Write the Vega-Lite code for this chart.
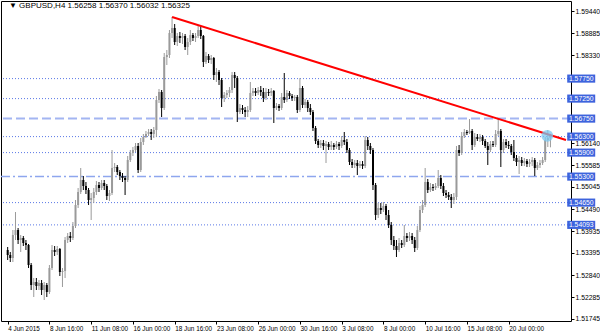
{
"$schema":"https://vega.github.io/schema/vega-lite/v6.json",
"width":570,"height":320,
"autosize":{"type":"none"},
"padding":{"left":1,"top":1,"right":29,"bottom":12},
"background":"white",
"config":{"font":"Liberation Sans","view":{"stroke":"#000","strokeWidth":1}},
"datasets":{
"levels":[{"lv":1.5775,"s":"dot"},{"lv":1.5725,"s":"dot"},{"lv":1.5675,"s":"dash"},{"lv":1.563,"s":"dot"},{"lv":1.559,"s":"dot"},{"lv":1.553,"s":"dashdot"},{"lv":1.5465,"s":"dot"},{"lv":1.54093,"s":"dot"}],
"trend":[{"x1":63,"p1":1.5929,"x2":213.97,"p2":1.56215}],
"mark":[{"ht":206.8,"hp":1.5632}],
"head":[{"hx":0.5,"hy":1.59565,"txt":"▼ GBPUSD,H4  1.56258 1.56370 1.56032 1.56325"}],
"k":[
{"t":0,"o":1.53465,"h":1.5354,"l":1.53215,"c":1.5334},
{"t":1,"o":1.5334,"h":1.53415,"l":1.53165,"c":1.53265},
{"t":2,"o":1.53265,"h":1.53965,"l":1.53165,"c":1.5384},
{"t":3,"o":1.5384,"h":1.54415,"l":1.53715,"c":1.53965},
{"t":4,"o":1.53965,"h":1.54015,"l":1.53615,"c":1.53715},
{"t":5,"o":1.53715,"h":1.5384,"l":1.53415,"c":1.53765},
{"t":6,"o":1.53765,"h":1.53815,"l":1.53565,"c":1.5364},
{"t":7,"o":1.5364,"h":1.53715,"l":1.53465,"c":1.5359},
{"t":8,"o":1.5359,"h":1.53615,"l":1.53015,"c":1.5309},
{"t":9,"o":1.5309,"h":1.5314,"l":1.52465,"c":1.5259},
{"t":10,"o":1.5259,"h":1.52765,"l":1.5229,"c":1.52665},
{"t":11,"o":1.52665,"h":1.52765,"l":1.52465,"c":1.52565},
{"t":12,"o":1.52565,"h":1.52715,"l":1.52465,"c":1.5264},
{"t":13,"o":1.5264,"h":1.52715,"l":1.5234,"c":1.52465},
{"t":14,"o":1.52465,"h":1.52665,"l":1.52215,"c":1.5259},
{"t":15,"o":1.5259,"h":1.5264,"l":1.5229,"c":1.52415},
{"t":16,"o":1.52415,"h":1.5309,"l":1.52365,"c":1.53015},
{"t":17,"o":1.53015,"h":1.5359,"l":1.52965,"c":1.53465},
{"t":18,"o":1.53465,"h":1.53565,"l":1.53315,"c":1.53415},
{"t":19,"o":1.53415,"h":1.53565,"l":1.5334,"c":1.5349},
{"t":20,"o":1.5349,"h":1.53515,"l":1.52815,"c":1.52915},
{"t":21,"o":1.52915,"h":1.53015,"l":1.5254,"c":1.5294},
{"t":22,"o":1.5294,"h":1.5379,"l":1.52765,"c":1.53715},
{"t":23,"o":1.53715,"h":1.5389,"l":1.5364,"c":1.53815},
{"t":24,"o":1.53815,"h":1.53915,"l":1.53665,"c":1.53765},
{"t":25,"o":1.53765,"h":1.54165,"l":1.53715,"c":1.54065},
{"t":26,"o":1.54065,"h":1.54715,"l":1.54015,"c":1.5459},
{"t":27,"o":1.5459,"h":1.55015,"l":1.54515,"c":1.54915},
{"t":28,"o":1.54915,"h":1.55515,"l":1.54865,"c":1.55215},
{"t":29,"o":1.55215,"h":1.55315,"l":1.54965,"c":1.55065},
{"t":30,"o":1.55065,"h":1.55165,"l":1.54865,"c":1.54965},
{"t":31,"o":1.54965,"h":1.55015,"l":1.5459,"c":1.54715},
{"t":32,"o":1.54715,"h":1.5489,"l":1.54215,"c":1.54765},
{"t":33,"o":1.54765,"h":1.55015,"l":1.5464,"c":1.54915},
{"t":34,"o":1.54915,"h":1.5519,"l":1.5484,"c":1.5509},
{"t":35,"o":1.5509,"h":1.55165,"l":1.54915,"c":1.55015},
{"t":36,"o":1.55015,"h":1.55215,"l":1.54965,"c":1.5514},
{"t":37,"o":1.5514,"h":1.55215,"l":1.54965,"c":1.55065},
{"t":38,"o":1.55065,"h":1.55115,"l":1.54715,"c":1.54815},
{"t":39,"o":1.54815,"h":1.54965,"l":1.5469,"c":1.5489},
{"t":40,"o":1.5489,"h":1.55965,"l":1.5484,"c":1.55515},
{"t":41,"o":1.55515,"h":1.5564,"l":1.55415,"c":1.5554},
{"t":42,"o":1.5554,"h":1.5559,"l":1.5534,"c":1.55415},
{"t":43,"o":1.55415,"h":1.55465,"l":1.55215,"c":1.55315},
{"t":44,"o":1.55315,"h":1.5539,"l":1.55165,"c":1.55265},
{"t":45,"o":1.55265,"h":1.55315,"l":1.5484,"c":1.55215},
{"t":46,"o":1.55215,"h":1.55815,"l":1.55165,"c":1.55715},
{"t":47,"o":1.55715,"h":1.55965,"l":1.55665,"c":1.5589},
{"t":48,"o":1.5589,"h":1.5604,"l":1.55815,"c":1.55965},
{"t":49,"o":1.55965,"h":1.5614,"l":1.55915,"c":1.56065},
{"t":50,"o":1.56065,"h":1.5614,"l":1.5539,"c":1.55465},
{"t":51,"o":1.55465,"h":1.56265,"l":1.55415,"c":1.56165},
{"t":52,"o":1.56165,"h":1.56365,"l":1.5609,"c":1.5629},
{"t":53,"o":1.5629,"h":1.5644,"l":1.56265,"c":1.56365},
{"t":54,"o":1.56365,"h":1.5649,"l":1.56315,"c":1.56415},
{"t":55,"o":1.56415,"h":1.5649,"l":1.56215,"c":1.56365},
{"t":56,"o":1.56365,"h":1.5654,"l":1.56265,"c":1.56465},
{"t":57,"o":1.56465,"h":1.57315,"l":1.5629,"c":1.57215},
{"t":58,"o":1.57215,"h":1.5749,"l":1.5714,"c":1.57415},
{"t":59,"o":1.57415,"h":1.57465,"l":1.5679,"c":1.57015},
{"t":60,"o":1.57015,"h":1.5839,"l":1.56965,"c":1.5829},
{"t":61,"o":1.5829,"h":1.58465,"l":1.5809,"c":1.5834},
{"t":62,"o":1.5834,"h":1.58965,"l":1.58265,"c":1.5889},
{"t":63,"o":1.5889,"h":1.5929,"l":1.58765,"c":1.59015},
{"t":64,"o":1.59015,"h":1.59115,"l":1.5859,"c":1.58665},
{"t":65,"o":1.58665,"h":1.5889,"l":1.58565,"c":1.58815},
{"t":66,"o":1.58815,"h":1.58915,"l":1.5864,"c":1.58765},
{"t":67,"o":1.58765,"h":1.5889,"l":1.58615,"c":1.58815},
{"t":68,"o":1.58815,"h":1.58865,"l":1.58465,"c":1.5854},
{"t":69,"o":1.5854,"h":1.58765,"l":1.5834,"c":1.58665},
{"t":70,"o":1.58665,"h":1.58965,"l":1.5859,"c":1.5884},
{"t":71,"o":1.5884,"h":1.5889,"l":1.5869,"c":1.58765},
{"t":72,"o":1.58765,"h":1.5889,"l":1.58665,"c":1.58815},
{"t":73,"o":1.58815,"h":1.59065,"l":1.58765,"c":1.58965},
{"t":74,"o":1.58965,"h":1.59065,"l":1.5874,"c":1.58815},
{"t":75,"o":1.58815,"h":1.5884,"l":1.5804,"c":1.58165},
{"t":76,"o":1.58165,"h":1.58415,"l":1.58115,"c":1.58315},
{"t":77,"o":1.58315,"h":1.58365,"l":1.5814,"c":1.58215},
{"t":78,"o":1.58215,"h":1.5834,"l":1.58115,"c":1.58265},
{"t":79,"o":1.58265,"h":1.5829,"l":1.57715,"c":1.5784},
{"t":80,"o":1.5784,"h":1.58015,"l":1.57665,"c":1.57915},
{"t":81,"o":1.57915,"h":1.57965,"l":1.5759,"c":1.57715},
{"t":82,"o":1.57715,"h":1.57765,"l":1.5704,"c":1.57265},
{"t":83,"o":1.57265,"h":1.57415,"l":1.57165,"c":1.5734},
{"t":84,"o":1.5734,"h":1.57465,"l":1.57265,"c":1.5739},
{"t":85,"o":1.5739,"h":1.5754,"l":1.5729,"c":1.57465},
{"t":86,"o":1.57465,"h":1.57915,"l":1.5739,"c":1.5784},
{"t":87,"o":1.5784,"h":1.57915,"l":1.57515,"c":1.57765},
{"t":88,"o":1.57765,"h":1.57815,"l":1.56665,"c":1.56915},
{"t":89,"o":1.56915,"h":1.57115,"l":1.56865,"c":1.57015},
{"t":90,"o":1.57015,"h":1.5709,"l":1.56865,"c":1.56965},
{"t":91,"o":1.56965,"h":1.5704,"l":1.5679,"c":1.56915},
{"t":92,"o":1.56915,"h":1.57065,"l":1.5679,"c":1.56965},
{"t":93,"o":1.56965,"h":1.57665,"l":1.56915,"c":1.5739},
{"t":94,"o":1.5739,"h":1.57515,"l":1.57315,"c":1.5744},
{"t":95,"o":1.5744,"h":1.57515,"l":1.57315,"c":1.5739},
{"t":96,"o":1.5739,"h":1.5754,"l":1.5734,"c":1.57465},
{"t":97,"o":1.57465,"h":1.57565,"l":1.57315,"c":1.57415},
{"t":98,"o":1.57415,"h":1.57515,"l":1.57165,"c":1.57265},
{"t":99,"o":1.57265,"h":1.57515,"l":1.57215,"c":1.57415},
{"t":100,"o":1.57415,"h":1.5749,"l":1.57315,"c":1.5739},
{"t":101,"o":1.5739,"h":1.57515,"l":1.57315,"c":1.5744},
{"t":102,"o":1.5744,"h":1.57465,"l":1.5664,"c":1.57015},
{"t":103,"o":1.57015,"h":1.5714,"l":1.56965,"c":1.57065},
{"t":104,"o":1.57065,"h":1.57115,"l":1.5694,"c":1.57015},
{"t":105,"o":1.57015,"h":1.5739,"l":1.56965,"c":1.5729},
{"t":106,"o":1.5729,"h":1.5789,"l":1.5714,"c":1.57215},
{"t":107,"o":1.57215,"h":1.57465,"l":1.57165,"c":1.5739},
{"t":108,"o":1.5739,"h":1.5744,"l":1.5724,"c":1.57315},
{"t":109,"o":1.57315,"h":1.57365,"l":1.5719,"c":1.57265},
{"t":110,"o":1.57265,"h":1.5734,"l":1.5719,"c":1.5729},
{"t":111,"o":1.5729,"h":1.5734,"l":1.5689,"c":1.56965},
{"t":112,"o":1.56965,"h":1.57765,"l":1.56915,"c":1.57515},
{"t":113,"o":1.57515,"h":1.57565,"l":1.57015,"c":1.5709},
{"t":114,"o":1.5709,"h":1.5724,"l":1.57015,"c":1.57165},
{"t":115,"o":1.57165,"h":1.57215,"l":1.56915,"c":1.57015},
{"t":116,"o":1.57015,"h":1.57115,"l":1.5684,"c":1.56915},
{"t":117,"o":1.56915,"h":1.56965,"l":1.5644,"c":1.56515},
{"t":118,"o":1.56515,"h":1.56565,"l":1.56115,"c":1.5619},
{"t":119,"o":1.5619,"h":1.5624,"l":1.56015,"c":1.5609},
{"t":120,"o":1.5609,"h":1.56215,"l":1.56015,"c":1.5614},
{"t":121,"o":1.5614,"h":1.56215,"l":1.55965,"c":1.56065},
{"t":122,"o":1.56065,"h":1.5619,"l":1.5564,"c":1.56115},
{"t":123,"o":1.56115,"h":1.56165,"l":1.55965,"c":1.5604},
{"t":124,"o":1.5604,"h":1.5619,"l":1.55965,"c":1.5609},
{"t":125,"o":1.5609,"h":1.5614,"l":1.55965,"c":1.5604},
{"t":126,"o":1.5604,"h":1.5619,"l":1.5599,"c":1.56115},
{"t":127,"o":1.56115,"h":1.56165,"l":1.55965,"c":1.56065},
{"t":128,"o":1.56065,"h":1.56315,"l":1.56015,"c":1.56215},
{"t":129,"o":1.56215,"h":1.56415,"l":1.5609,"c":1.56165},
{"t":130,"o":1.56165,"h":1.5624,"l":1.5589,"c":1.55965},
{"t":131,"o":1.55965,"h":1.56015,"l":1.5559,"c":1.55665},
{"t":132,"o":1.55665,"h":1.5574,"l":1.55515,"c":1.5559},
{"t":133,"o":1.5559,"h":1.55715,"l":1.55515,"c":1.5564},
{"t":134,"o":1.5564,"h":1.55715,"l":1.5534,"c":1.55565},
{"t":135,"o":1.55565,"h":1.5569,"l":1.55515,"c":1.55615},
{"t":136,"o":1.55615,"h":1.5569,"l":1.5549,"c":1.55565},
{"t":137,"o":1.55565,"h":1.56315,"l":1.55515,"c":1.56215},
{"t":138,"o":1.56215,"h":1.5629,"l":1.55965,"c":1.56065},
{"t":139,"o":1.56065,"h":1.5614,"l":1.55865,"c":1.55965},
{"t":140,"o":1.55965,"h":1.56015,"l":1.54965,"c":1.5509},
{"t":141,"o":1.5509,"h":1.5514,"l":1.54215,"c":1.5434},
{"t":142,"o":1.5434,"h":1.5464,"l":1.54265,"c":1.54515},
{"t":143,"o":1.54515,"h":1.5464,"l":1.54365,"c":1.54465},
{"t":144,"o":1.54465,"h":1.54665,"l":1.54415,"c":1.54565},
{"t":145,"o":1.54565,"h":1.54615,"l":1.54215,"c":1.5434},
{"t":146,"o":1.5434,"h":1.54465,"l":1.54015,"c":1.5409},
{"t":147,"o":1.5409,"h":1.54165,"l":1.5359,"c":1.53715},
{"t":148,"o":1.53715,"h":1.53815,"l":1.53465,"c":1.53565},
{"t":149,"o":1.53565,"h":1.53715,"l":1.5329,"c":1.53465},
{"t":150,"o":1.53465,"h":1.53765,"l":1.53415,"c":1.5364},
{"t":151,"o":1.5364,"h":1.53715,"l":1.53515,"c":1.5359},
{"t":152,"o":1.5359,"h":1.5409,"l":1.5354,"c":1.53815},
{"t":153,"o":1.53815,"h":1.5389,"l":1.53665,"c":1.53765},
{"t":154,"o":1.53765,"h":1.53915,"l":1.5369,"c":1.53815},
{"t":155,"o":1.53815,"h":1.5389,"l":1.53615,"c":1.53715},
{"t":156,"o":1.53715,"h":1.5379,"l":1.53415,"c":1.53515},
{"t":157,"o":1.53515,"h":1.54065,"l":1.53465,"c":1.53965},
{"t":158,"o":1.53965,"h":1.54565,"l":1.53915,"c":1.54465},
{"t":159,"o":1.54465,"h":1.54715,"l":1.5439,"c":1.5459},
{"t":160,"o":1.5459,"h":1.55515,"l":1.5454,"c":1.55165},
{"t":161,"o":1.55165,"h":1.5524,"l":1.5489,"c":1.54965},
{"t":162,"o":1.54965,"h":1.5514,"l":1.54915,"c":1.5504},
{"t":163,"o":1.5504,"h":1.55115,"l":1.5494,"c":1.55015},
{"t":164,"o":1.55015,"h":1.5514,"l":1.54965,"c":1.55065},
{"t":165,"o":1.55065,"h":1.55465,"l":1.55015,"c":1.55265},
{"t":166,"o":1.55265,"h":1.5534,"l":1.5499,"c":1.55065},
{"t":167,"o":1.55065,"h":1.5514,"l":1.54815,"c":1.5489},
{"t":168,"o":1.5489,"h":1.54965,"l":1.54765,"c":1.5484},
{"t":169,"o":1.5484,"h":1.54915,"l":1.54715,"c":1.5479},
{"t":170,"o":1.5479,"h":1.54865,"l":1.54515,"c":1.54715},
{"t":171,"o":1.54715,"h":1.5489,"l":1.54615,"c":1.5479},
{"t":172,"o":1.5479,"h":1.56065,"l":1.54715,"c":1.55965},
{"t":173,"o":1.55965,"h":1.5609,"l":1.55815,"c":1.5589},
{"t":174,"o":1.5589,"h":1.56415,"l":1.5584,"c":1.56315},
{"t":175,"o":1.56315,"h":1.5649,"l":1.56265,"c":1.56415},
{"t":176,"o":1.56415,"h":1.56465,"l":1.5634,"c":1.5639},
{"t":177,"o":1.5639,"h":1.5674,"l":1.56365,"c":1.5644},
{"t":178,"o":1.5644,"h":1.5649,"l":1.55965,"c":1.5609},
{"t":179,"o":1.5609,"h":1.5639,"l":1.5604,"c":1.5629},
{"t":180,"o":1.5629,"h":1.56365,"l":1.5619,"c":1.5624},
{"t":181,"o":1.5624,"h":1.56365,"l":1.56165,"c":1.5629},
{"t":182,"o":1.5629,"h":1.5634,"l":1.5609,"c":1.5619},
{"t":183,"o":1.5619,"h":1.5624,"l":1.56015,"c":1.56065},
{"t":184,"o":1.56065,"h":1.56165,"l":1.5559,"c":1.55965},
{"t":185,"o":1.55965,"h":1.5619,"l":1.55915,"c":1.56115},
{"t":186,"o":1.56115,"h":1.5619,"l":1.5604,"c":1.5609},
{"t":187,"o":1.5609,"h":1.56465,"l":1.5604,"c":1.56365},
{"t":188,"o":1.56365,"h":1.5674,"l":1.56315,"c":1.5644},
{"t":189,"o":1.5644,"h":1.5649,"l":1.5554,"c":1.55965},
{"t":190,"o":1.55965,"h":1.5624,"l":1.5589,"c":1.56165},
{"t":191,"o":1.56165,"h":1.5624,"l":1.56015,"c":1.5609},
{"t":192,"o":1.5609,"h":1.5619,"l":1.5599,"c":1.56065},
{"t":193,"o":1.56065,"h":1.56115,"l":1.5584,"c":1.55915},
{"t":194,"o":1.55915,"h":1.56215,"l":1.5569,"c":1.55765},
{"t":195,"o":1.55765,"h":1.5584,"l":1.55565,"c":1.55665},
{"t":196,"o":1.55665,"h":1.55815,"l":1.55365,"c":1.55715},
{"t":197,"o":1.55715,"h":1.5579,"l":1.55565,"c":1.5564},
{"t":198,"o":1.5564,"h":1.55765,"l":1.55565,"c":1.5569},
{"t":199,"o":1.5569,"h":1.5574,"l":1.5554,"c":1.55615},
{"t":200,"o":1.55615,"h":1.5574,"l":1.5554,"c":1.55665},
{"t":201,"o":1.55665,"h":1.5579,"l":1.55565,"c":1.55715},
{"t":202,"o":1.55715,"h":1.55765,"l":1.55315,"c":1.55515},
{"t":203,"o":1.55515,"h":1.55665,"l":1.55465,"c":1.5559},
{"t":204,"o":1.5559,"h":1.55715,"l":1.55515,"c":1.5564},
{"t":205,"o":1.5564,"h":1.5579,"l":1.5559,"c":1.55715},
{"t":206,"o":1.55715,"h":1.5629,"l":1.55665,"c":1.56215},
{"t":207,"o":1.56215,"h":1.56465,"l":1.5604,"c":1.56265},
{"t":208,"o":1.56258,"h":1.5637,"l":1.56032,"c":1.56325}
]},
"encoding":{
 "x":{"type":"quantitative","scale":{"domain":[-0.64,213.97],"nice":false,"zero":false},
   "axis":{"orient":"bottom","values":[0,16,32,48,64,80,96,112,128,144,160,176,192],
    "labelExpr":"['4 Jun 2015','8 Jun 16:00','11 Jun 08:00','16 Jun 00:00','18 Jun 16:00','23 Jun 08:00','26 Jun 00:00','30 Jun 16:00','3 Jul 08:00','8 Jul 00:00','10 Jul 16:00','15 Jul 08:00','20 Jul 00:00'][round(datum.value/16)]",
    "labelAlign":"left","labelFontSize":6.4,"labelPadding":1,"tickSize":3,"tickColor":"#000","labelColor":"#000","domain":false,"grid":false,"title":null,"labelOverlap":false,"labelFlush":false}},
 "y":{"type":"quantitative","scale":{"domain":[1.5169,1.5969],"nice":false,"zero":false},
   "axis":{"orient":"right","values":[1.5944,1.58885,1.5833,1.5614,1.55585,1.55045,1.5449,1.53935,1.53395,1.5284,1.52285,1.51745],
    "format":".5f","labelFontSize":6.8,"labelPadding":1,"tickSize":3,"tickColor":"#000","labelColor":"#000","domain":false,"grid":false,"title":null,"labelOverlap":false,"labelFlush":false}}
},
"layer":[
{"data":{"name":"levels"},"transform":[{"filter":"datum.s==='dot'"}],
 "mark":{"type":"rule","color":"#5a78e6","strokeDash":[1,2],"strokeWidth":1},
 "encoding":{"x":null,"y":{"field":"lv"}}},
{"data":{"name":"levels"},"transform":[{"filter":"datum.s==='dash'"}],
 "mark":{"type":"rule","color":"#a3b5f2","strokeDash":[9,4],"strokeWidth":2},
 "encoding":{"x":null,"y":{"field":"lv"}}},
{"data":{"name":"levels"},"transform":[{"filter":"datum.s==='dashdot'"}],
 "mark":{"type":"rule","color":"#8ea6ee","strokeDash":[9,3,2,3],"strokeWidth":1.5},
 "encoding":{"x":null,"y":{"field":"lv"}}},
{"data":{"name":"k"},
 "mark":{"type":"rule","strokeWidth":1},
 "encoding":{
  "x":{"field":"t"},
  "y":{"field":"l"},
  "y2":{"field":"h"},
  "color":{"condition":{"test":"datum.c>=datum.o","value":"#9a9a9a"},"value":"#000000"}}},
{"data":{"name":"k"},
 "mark":{"type":"bar","width":2},
 "encoding":{
  "x":{"field":"t"},
  "y":{"field":"o"},
  "y2":{"field":"c"},
  "color":{"condition":{"test":"datum.c>=datum.o","value":"#9a9a9a"},"value":"#000000"}}},
{"data":{"name":"trend"},
 "mark":{"type":"rule","color":"#ff0000","strokeWidth":2},
 "encoding":{
  "x":{"field":"x1"},
  "y":{"field":"p1"},
  "x2":{"field":"x2"},"y2":{"field":"p2"}}},
{"data":{"name":"mark"},
 "mark":{"type":"point","filled":true,"color":"#7ec8f0","opacity":0.75,"size":140},
 "encoding":{
  "x":{"field":"ht"},
  "y":{"field":"hp"}}},
{"data":{"name":"levels"},
 "mark":{"type":"point","filled":true,"color":"#3d63dd","opacity":1,"size":784,"shape":"M-1,-0.29L1,-0.29L1,0.29L-1,0.29Z"},
 "encoding":{
  "x":{"datum":219.8},
  "y":{"field":"lv"}}},
{"data":{"name":"levels"},
 "mark":{"type":"text","color":"#ffffff","fontSize":6.8,"align":"center","baseline":"middle","font":"Liberation Sans"},
 "encoding":{
  "x":{"datum":219.8},
  "y":{"field":"lv"},
  "text":{"field":"lv","type":"quantitative","format":".5f"}}},
{"data":{"name":"head"},
 "mark":{"type":"text","color":"#000000","fontSize":8,"align":"left","baseline":"middle","font":"Liberation Sans, DejaVu Sans"},
 "encoding":{
  "x":{"field":"hx"},
  "y":{"field":"hy"},
  "text":{"field":"txt"}}}
]
}
